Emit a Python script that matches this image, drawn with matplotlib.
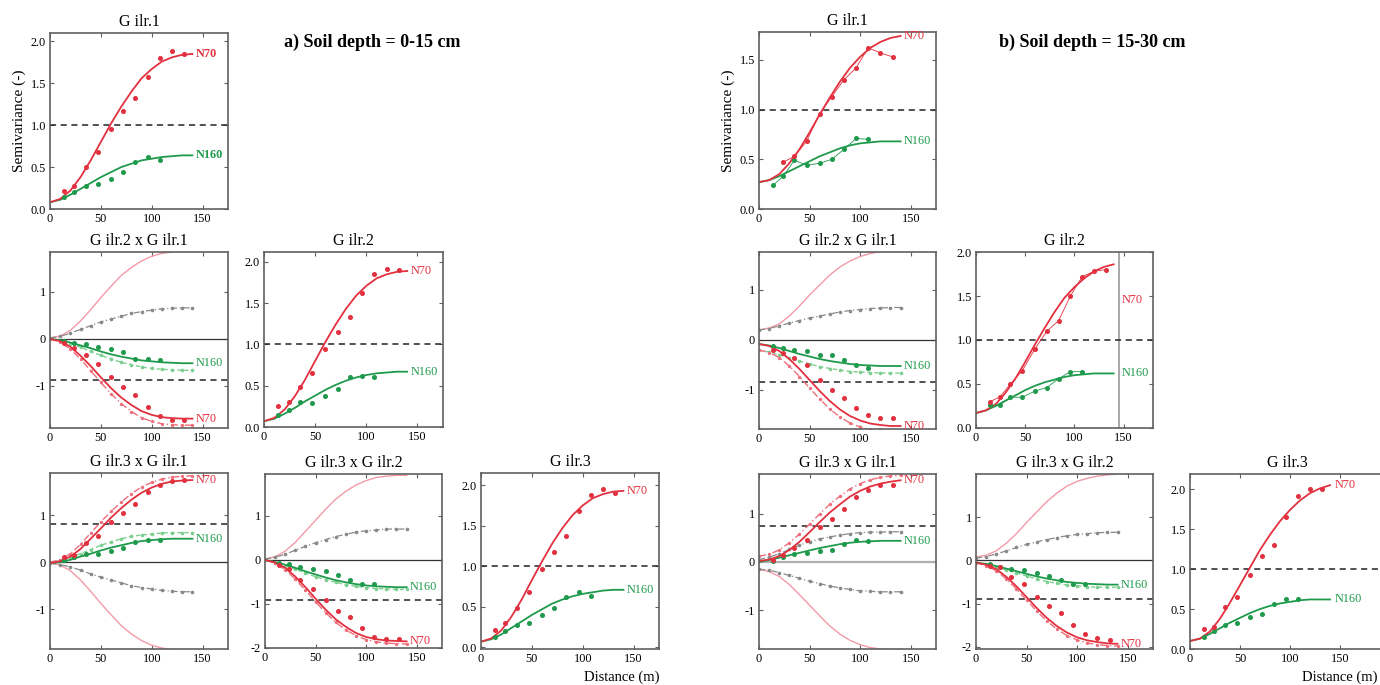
import matplotlib
matplotlib.use('Agg')
import matplotlib.pyplot as plt

plt.rcParams['font.family'] = ['Liberation Serif', 'DejaVu Serif']

# ---------------- data ----------------
lags = [14, 24, 35, 47, 60, 72, 84, 96, 108, 120, 132]
lags_n160 = [14, 24, 35, 47, 60, 72, 84, 96, 108]
dist = [0, 10, 20, 30, 40, 50, 60, 70, 80, 90, 100, 110, 120, 130, 140]

# a) 0-15 cm : G ilr.1
a1_n70_pts = [0.22, 0.28, 0.50, 0.68, 0.95, 1.17, 1.33, 1.58, 1.80, 1.88, 1.85]
a1_n160_pts = [0.14, 0.20, 0.28, 0.30, 0.36, 0.44, 0.56, 0.62, 0.58]
a1_n70_fit = [0.08, 0.12, 0.22, 0.38, 0.58, 0.80, 1.02, 1.22, 1.40, 1.56, 1.67, 1.76, 1.81, 1.84, 1.85]
a1_n160_fit = [0.08, 0.11, 0.17, 0.24, 0.31, 0.38, 0.44, 0.50, 0.54, 0.58, 0.60, 0.62, 0.63, 0.64, 0.64]

# a) G ilr.2 x G ilr.1
a21_up_n70 = [0.02, 0.06, 0.18, 0.38, 0.62, 0.88, 1.12, 1.35, 1.52, 1.66, 1.76, 1.82, 1.85, 1.87, 1.88]
a21_up_n160 = [0.02, 0.05, 0.12, 0.20, 0.28, 0.36, 0.42, 0.48, 0.54, 0.58, 0.61, 0.64, 0.65, 0.66, 0.66]
a21_n160_fit = [0.00, -0.03, -0.08, -0.14, -0.20, -0.27, -0.33, -0.38, -0.42, -0.46, -0.48, -0.50, -0.51, -0.52, -0.52]
a21_lo_n160 = [0.00, -0.04, -0.10, -0.18, -0.27, -0.35, -0.43, -0.50, -0.55, -0.60, -0.63, -0.65, -0.66, -0.67, -0.67]
a21_n70_fit = [0.00, -0.05, -0.17, -0.36, -0.58, -0.82, -1.05, -1.25, -1.41, -1.54, -1.62, -1.67, -1.69, -1.70, -1.70]
a21_lo_n70 = [0.00, -0.07, -0.22, -0.43, -0.68, -0.93, -1.17, -1.38, -1.55, -1.68, -1.76, -1.81, -1.83, -1.84, -1.84]
a21_n160_pts = [-0.05, -0.08, -0.12, -0.17, -0.21, -0.28, -0.42, -0.44, -0.46]
a21_n70_pts = [-0.08, -0.19, -0.34, -0.54, -0.81, -1.03, -1.20, -1.45, -1.64, -1.72, -1.72]

# a) G ilr.2
a22_n70_pts = [0.25, 0.30, 0.48, 0.65, 0.94, 1.15, 1.33, 1.62, 1.85, 1.92, 1.90]
a22_n160_pts = [0.15, 0.20, 0.30, 0.29, 0.37, 0.46, 0.60, 0.62, 0.60]
a22_n70_fit = [0.07, 0.11, 0.21, 0.37, 0.57, 0.80, 1.03, 1.24, 1.43, 1.59, 1.71, 1.80, 1.85, 1.88, 1.89]
a22_n160_fit = [0.07, 0.10, 0.16, 0.23, 0.31, 0.38, 0.45, 0.51, 0.56, 0.60, 0.63, 0.65, 0.66, 0.67, 0.67]

# a) G ilr.3 x G ilr.1
a31_n70_fit = [-0.02, 0.02, 0.12, 0.28, 0.50, 0.72, 0.95, 1.15, 1.33, 1.48, 1.59, 1.67, 1.72, 1.74, 1.75]
a31_up_n70 = [0.00, 0.05, 0.18, 0.38, 0.62, 0.86, 1.08, 1.28, 1.46, 1.60, 1.70, 1.77, 1.81, 1.83, 1.84]
a31_n70_pts = [0.10, 0.15, 0.40, 0.55, 0.85, 1.05, 1.25, 1.50, 1.65, 1.72, 1.75]
a31_n160_fit = [-0.02, 0.00, 0.05, 0.12, 0.18, 0.25, 0.31, 0.36, 0.41, 0.45, 0.47, 0.49, 0.50, 0.50, 0.50]
a31_up_n160 = [0.00, 0.03, 0.10, 0.18, 0.27, 0.36, 0.43, 0.50, 0.55, 0.58, 0.60, 0.62, 0.63, 0.63, 0.63]
a31_n160_pts = [0.05, 0.10, 0.18, 0.18, 0.24, 0.30, 0.43, 0.48, 0.47]
a31_lo_n160 = [-0.02, -0.05, -0.10, -0.17, -0.25, -0.32, -0.38, -0.44, -0.50, -0.54, -0.57, -0.60, -0.62, -0.63, -0.63]
a31_lo_n70 = [-0.02, -0.06, -0.18, -0.38, -0.62, -0.88, -1.12, -1.35, -1.53, -1.67, -1.77, -1.83, -1.86, -1.88, -1.88]

# a) G ilr.3 x G ilr.2
a32_up_n70 = [0.02, 0.07, 0.20, 0.40, 0.65, 0.90, 1.15, 1.38, 1.56, 1.70, 1.80, 1.87, 1.90, 1.92, 1.92]
a32_up_n160 = [0.02, 0.06, 0.13, 0.22, 0.31, 0.39, 0.46, 0.53, 0.58, 0.63, 0.66, 0.68, 0.70, 0.70, 0.70]
a32_n160_fit = [0.00, -0.05, -0.11, -0.18, -0.26, -0.33, -0.40, -0.46, -0.51, -0.55, -0.58, -0.60, -0.61, -0.62, -0.62]
a32_lo_n160 = [0.00, -0.06, -0.13, -0.21, -0.30, -0.38, -0.45, -0.51, -0.56, -0.60, -0.63, -0.65, -0.66, -0.67, -0.67]
a32_n160_pts = [-0.08, -0.10, -0.15, -0.20, -0.25, -0.35, -0.45, -0.55, -0.55]
a32_n70_fit = [0.00, -0.06, -0.18, -0.38, -0.62, -0.88, -1.13, -1.35, -1.52, -1.66, -1.75, -1.80, -1.83, -1.84, -1.85]
a32_lo_n70 = [0.00, -0.08, -0.22, -0.44, -0.69, -0.95, -1.20, -1.42, -1.59, -1.72, -1.81, -1.86, -1.89, -1.90, -1.91]
a32_n70_pts = [-0.12, -0.20, -0.45, -0.65, -0.90, -1.15, -1.30, -1.55, -1.75, -1.80, -1.80]

# a) G ilr.3
a33_n70_pts = [0.22, 0.30, 0.48, 0.68, 0.97, 1.18, 1.37, 1.68, 1.88, 1.95, 1.90]
a33_n160_pts = [0.13, 0.20, 0.28, 0.30, 0.40, 0.48, 0.62, 0.68, 0.63]
a33_n70_fit = [0.07, 0.11, 0.21, 0.38, 0.59, 0.83, 1.06, 1.28, 1.47, 1.63, 1.75, 1.84, 1.89, 1.92, 1.93]
a33_n160_fit = [0.07, 0.10, 0.16, 0.24, 0.32, 0.40, 0.47, 0.54, 0.59, 0.63, 0.66, 0.68, 0.70, 0.71, 0.71]

# b) 15-30 cm : G ilr.1
b1_n70_lags = [24, 35, 47, 60, 72, 84, 96, 108, 120, 132]
b1_n70_pts = [0.47, 0.53, 0.68, 0.96, 1.13, 1.30, 1.42, 1.62, 1.57, 1.53]
b1_n160_pts = [0.24, 0.33, 0.49, 0.44, 0.46, 0.50, 0.60, 0.71, 0.70]
b1_n70_fit = [0.27, 0.29, 0.35, 0.46, 0.60, 0.77, 0.95, 1.12, 1.28, 1.42, 1.53, 1.62, 1.68, 1.72, 1.74]
b1_n160_fit = [0.27, 0.29, 0.33, 0.38, 0.43, 0.48, 0.53, 0.57, 0.61, 0.64, 0.66, 0.67, 0.68, 0.68, 0.68]

# b) G ilr.2 x G ilr.1
b21_up_n70 = [0.20, 0.24, 0.32, 0.48, 0.68, 0.90, 1.10, 1.30, 1.46, 1.58, 1.67, 1.73, 1.77, 1.79, 1.80]
b21_up_n160 = [0.20, 0.23, 0.28, 0.34, 0.39, 0.44, 0.48, 0.52, 0.56, 0.59, 0.61, 0.63, 0.64, 0.65, 0.65]
b21_n160_fit = [-0.08, -0.11, -0.16, -0.22, -0.28, -0.33, -0.38, -0.42, -0.45, -0.48, -0.50, -0.51, -0.52, -0.52, -0.52]
b21_lo_n160 = [-0.20, -0.24, -0.30, -0.36, -0.42, -0.48, -0.53, -0.57, -0.60, -0.63, -0.64, -0.65, -0.66, -0.66, -0.66]
b21_n160_pts = [-0.12, -0.15, -0.20, -0.22, -0.30, -0.30, -0.40, -0.50, -0.55]
b21_n70_fit = [-0.08, -0.12, -0.22, -0.38, -0.58, -0.80, -1.02, -1.22, -1.39, -1.52, -1.61, -1.67, -1.70, -1.72, -1.72]
b21_lo_n70 = [-0.20, -0.25, -0.35, -0.52, -0.73, -0.96, -1.18, -1.38, -1.54, -1.66, -1.74, -1.79, -1.80, -1.81, -1.81]
b21_n70_pts = [-0.20, -0.25, -0.35, -0.50, -0.80, -1.00, -1.15, -1.35, -1.50, -1.55, -1.55]

# b) G ilr.2
b22_n70_pts = [0.30, 0.35, 0.50, 0.65, 0.90, 1.10, 1.22, 1.50, 1.72, 1.78, 1.80]
b22_n160_pts = [0.26, 0.26, 0.35, 0.35, 0.42, 0.46, 0.56, 0.64, 0.64]
b22_n70_fit = [0.17, 0.20, 0.27, 0.40, 0.56, 0.75, 0.95, 1.14, 1.32, 1.48, 1.60, 1.70, 1.78, 1.83, 1.86]
b22_n160_fit = [0.17, 0.20, 0.25, 0.31, 0.37, 0.43, 0.48, 0.52, 0.55, 0.58, 0.60, 0.61, 0.62, 0.62, 0.62]

# b) G ilr.3 x G ilr.1
b31_n70_fit = [0.02, 0.05, 0.12, 0.25, 0.42, 0.62, 0.83, 1.03, 1.20, 1.36, 1.48, 1.57, 1.63, 1.67, 1.70]
b31_up_n70 = [0.12, 0.16, 0.25, 0.40, 0.58, 0.79, 1.00, 1.20, 1.37, 1.52, 1.63, 1.71, 1.76, 1.79, 1.80]
b31_n70_pts = [0.05, 0.15, 0.30, 0.45, 0.72, 0.90, 1.10, 1.35, 1.50, 1.60, 1.60]
b31_n160_fit = [0.00, 0.04, 0.09, 0.14, 0.19, 0.24, 0.29, 0.33, 0.37, 0.40, 0.42, 0.43, 0.44, 0.44, 0.44]
b31_up_n160 = [0.05, 0.10, 0.17, 0.26, 0.35, 0.42, 0.48, 0.52, 0.56, 0.59, 0.61, 0.62, 0.62, 0.63, 0.63]
b31_n160_pts = [0.03, 0.10, 0.17, 0.18, 0.22, 0.25, 0.37, 0.45, 0.43]
b31_lo_n160 = [-0.15, -0.17, -0.22, -0.28, -0.34, -0.40, -0.45, -0.50, -0.54, -0.57, -0.60, -0.61, -0.62, -0.62, -0.62]
b31_lo_n70 = [-0.15, -0.20, -0.30, -0.47, -0.68, -0.90, -1.12, -1.33, -1.50, -1.63, -1.72, -1.78, -1.81, -1.82, -1.82]

# b) G ilr.3 x G ilr.2
b32_up_n70 = [0.08, 0.12, 0.22, 0.40, 0.62, 0.88, 1.12, 1.36, 1.56, 1.72, 1.83, 1.90, 1.95, 1.98, 2.00]
b32_up_n160 = [0.05, 0.09, 0.15, 0.22, 0.30, 0.37, 0.43, 0.48, 0.53, 0.57, 0.60, 0.62, 0.64, 0.65, 0.65]
b32_n160_fit = [-0.05, -0.08, -0.13, -0.19, -0.25, -0.31, -0.37, -0.42, -0.46, -0.50, -0.52, -0.54, -0.55, -0.56, -0.56]
b32_lo_n160 = [-0.05, -0.09, -0.15, -0.22, -0.29, -0.36, -0.43, -0.49, -0.53, -0.57, -0.59, -0.61, -0.62, -0.62, -0.62]
b32_n160_pts = [-0.08, -0.15, -0.20, -0.22, -0.30, -0.35, -0.45, -0.55, -0.55]
b32_n70_fit = [-0.05, -0.10, -0.20, -0.38, -0.60, -0.85, -1.10, -1.33, -1.52, -1.67, -1.78, -1.85, -1.89, -1.92, -1.93]
b32_lo_n70 = [-0.05, -0.12, -0.24, -0.43, -0.66, -0.92, -1.17, -1.40, -1.59, -1.74, -1.84, -1.91, -1.95, -1.97, -1.98]
b32_n70_pts = [-0.12, -0.15, -0.38, -0.55, -0.85, -1.05, -1.22, -1.50, -1.70, -1.80, -1.85]

# b) G ilr.3
b33_n70_pts = [0.25, 0.28, 0.52, 0.65, 0.92, 1.16, 1.30, 1.65, 1.92, 2.00, 2.00]
b33_n160_pts = [0.15, 0.22, 0.30, 0.32, 0.40, 0.44, 0.56, 0.62, 0.62]
b33_n70_fit = [0.10, 0.13, 0.22, 0.38, 0.58, 0.80, 1.02, 1.24, 1.43, 1.60, 1.74, 1.86, 1.95, 2.01, 2.05]
b33_n160_fit = [0.10, 0.13, 0.19, 0.26, 0.33, 0.39, 0.45, 0.50, 0.54, 0.57, 0.59, 0.61, 0.62, 0.62, 0.62]

# ---------------- style ----------------
RED = '#e2303f'
GREEN = '#1f9a4c'
PINK = '#f39aa8'
GREY = '#8a8a8a'
LGREEN = '#7ccf90'
LRED = '#ef6e7c'
SPINE = '#606060'
TICK_FS = 8.8
LAB_FS = 8.8

W, H = 1380, 685
fig = plt.figure(figsize=(W / 100, H / 100), dpi=100)


def make_ax(box, xlim, ylim, yticks, ylabels, title):
    l, t, r, b = box
    ax = fig.add_axes([l / W, 1 - b / H, (r - l) / W, (b - t) / H])
    ax.set_xlim(*xlim)
    ax.set_ylim(*ylim)
    ax.set_xticks([0, 50, 100, 150])
    ax.set_yticks(yticks)
    ax.set_yticklabels(ylabels)
    ax.tick_params(direction='in', top=True, right=True, length=3, width=0.8,
                   color=SPINE, labelsize=TICK_FS, pad=3)
    for s in ax.spines.values():
        s.set_color(SPINE)
        s.set_linewidth(1.2)
    ax.set_title(title, fontsize=11.5, pad=5)
    return ax


def label(ax, x, y, txt, color, bold=False):
    ax.text(x, y, txt, color=color, fontsize=LAB_FS, va='center', ha='left',
            fontweight='bold' if bold else 'normal', clip_on=False)


def direct(ax, n70_pts, n160_pts, n70_fit, n160_fit, n70_lags=lags, join=False, bold=False, lx=143):
    ax.axhline(1.0, color='#222222', ls=(0, (4, 3)), lw=1.1)
    ax.plot(dist, n160_fit, color=GREEN, lw=1.3)
    ax.plot(dist, n70_fit, color=RED, lw=1.3)
    ax.plot(lags_n160, n160_pts, 'o', color=GREEN, ms=2.6, ls='-' if join else 'none', lw=0.6)
    ax.plot(n70_lags, n70_pts, 'o', color=RED, ms=2.6, ls='-' if join else 'none', lw=0.6)
    label(ax, lx, n70_fit[-1], 'N70', RED, bold)
    label(ax, lx, n160_fit[-1], 'N160', GREEN, bold)


def cross(ax, dline, up70, up160, f160, lo160, p160, f70, lo70, p70, zero_col='#333333'):
    ax.axhline(0.0, color=zero_col, lw=0.9)
    ax.axhline(dline, color='#222222', ls=(0, (4, 3)), lw=1.1)
    ax.plot(dist, up70, color=PINK, lw=1.0)
    ax.plot(dist, up160, color=GREY, lw=0.9, ls=(0, (5, 2, 1, 2)), marker='o', ms=1.6)
    ax.plot(dist, lo160, color=LGREEN, lw=1.0, ls=(0, (3, 2)), marker='o', ms=1.6)
    ax.plot(dist, lo70, color=LRED, lw=1.0, ls=(0, (5, 2, 1, 2)), marker='o', ms=1.4)
    ax.plot(dist, f160, color=GREEN, lw=1.3)
    ax.plot(dist, f70, color=RED, lw=1.3)
    ax.plot(lags_n160, p160, 'o', color=GREEN, ms=2.6)
    ax.plot(lags, p70, 'o', color=RED, ms=2.6)
    label(ax, 143, f70[-1], 'N70', RED)
    label(ax, 143, f160[-1], 'N160', GREEN)


cross_ticks = [-1, 0, 1]
cross_lab = ['-1', '0', '1']
cross_ticks2 = [-2, -1, 0, 1]
cross_lab2 = ['-2', '-1', '0', '1']
dir_ticks = [0, 0.5, 1.0, 1.5, 2.0]
dir_lab = ['0.0', '0.5', '1.0', '1.5', '2.0']

# ----- a) -----
ax = make_ax((50, 33, 228, 209), (0, 175), (0, 2.1), dir_ticks, dir_lab, 'G ilr.1')
direct(ax, a1_n70_pts, a1_n160_pts, a1_n70_fit, a1_n160_fit, bold=True)
ax.set_ylabel('Semivariance (-)', fontsize=11, labelpad=3)

ax = make_ax((50, 252, 228, 428), (0, 175), (-1.9, 1.85), cross_ticks, cross_lab, 'G ilr.2 x G ilr.1')
cross(ax, -0.87, a21_up_n70, a21_up_n160, a21_n160_fit, a21_lo_n160, a21_n160_pts,
      a21_n70_fit, a21_lo_n70, a21_n70_pts)

ax = make_ax((264, 252, 443, 427), (0, 175), (0, 2.12), dir_ticks, dir_lab, 'G ilr.2')
direct(ax, a22_n70_pts, a22_n160_pts, a22_n70_fit, a22_n160_fit)

ax = make_ax((50, 473, 228, 649), (0, 175), (-1.85, 1.9), cross_ticks, cross_lab, 'G ilr.3 x G ilr.1')
ax.axhline(0.0, color='#333333', lw=0.9)
ax.axhline(0.82, color='#222222', ls=(0, (4, 3)), lw=1.1)
ax.plot(dist, a31_lo_n70, color=PINK, lw=1.0)
ax.plot(dist, a31_lo_n160, color=GREY, lw=0.9, ls=(0, (5, 2, 1, 2)), marker='o', ms=1.6)
ax.plot(dist, a31_up_n160, color=LGREEN, lw=1.0, ls=(0, (3, 2)), marker='o', ms=1.6)
ax.plot(dist, a31_up_n70, color=LRED, lw=1.0, ls=(0, (5, 2, 1, 2)), marker='o', ms=1.4)
ax.plot(dist, a31_n160_fit, color=GREEN, lw=1.3)
ax.plot(dist, a31_n70_fit, color=RED, lw=1.3)
ax.plot(lags_n160, a31_n160_pts, 'o', color=GREEN, ms=2.6)
ax.plot(lags, a31_n70_pts, 'o', color=RED, ms=2.6)
label(ax, 143, a31_n70_fit[-1], 'N70', RED)
label(ax, 143, a31_n160_fit[-1], 'N160', GREEN)

ax = make_ax((265, 474, 442, 648), (0, 175), (-2.0, 1.95), cross_ticks2, cross_lab2, 'G ilr.3 x G ilr.2')
cross(ax, -0.9, a32_up_n70, a32_up_n160, a32_n160_fit, a32_lo_n160, a32_n160_pts,
      a32_n70_fit, a32_lo_n70, a32_n70_pts)

ax = make_ax((481, 473, 659, 649), (0, 175), (-0.02, 2.15), dir_ticks, dir_lab, 'G ilr.3')
direct(ax, a33_n70_pts, a33_n160_pts, a33_n70_fit, a33_n160_fit)
fig.text(659 / W, 1 - 677 / H, 'Distance (m)', ha='right', va='center', fontsize=10.5)

fig.text(372 / W, 1 - 42 / H, 'a) Soil depth = 0-15 cm', ha='center', va='center',
         fontsize=13, fontweight='bold')

# ----- b) -----
ax = make_ax((759, 32, 936, 209), (0, 175), (0, 1.78), [0, 0.5, 1.0, 1.5], dir_lab[:4], 'G ilr.1')
direct(ax, b1_n70_pts, b1_n160_pts, b1_n70_fit, b1_n160_fit, n70_lags=b1_n70_lags, join=True)
ax.set_ylabel('Semivariance (-)', fontsize=11, labelpad=3)

ax = make_ax((759, 252, 936, 429), (0, 175), (-1.78, 1.76), cross_ticks, cross_lab, 'G ilr.2 x G ilr.1')
cross(ax, -0.84, b21_up_n70, b21_up_n160, b21_n160_fit, b21_lo_n160, b21_n160_pts,
      b21_n70_fit, b21_lo_n70, b21_n70_pts)

ax = make_ax((976, 252, 1153, 428), (0, 180), (0, 2.0), dir_ticks, dir_lab, 'G ilr.2')
ax.axvline(145, color='#9a9a9a', lw=1.2)
direct(ax, b22_n70_pts, b22_n160_pts, b22_n70_fit, b22_n160_fit, join=True, lx=148)
ax.texts[0].set_y(1.45)

ax = make_ax((759, 474, 936, 649), (0, 175), (-1.81, 1.83), cross_ticks, cross_lab, 'G ilr.3 x G ilr.1')
ax.axhline(0.0, color='#b0b0b0', lw=1.6)
ax.axhline(0.75, color='#222222', ls=(0, (4, 3)), lw=1.1)
ax.plot(dist, b31_lo_n70, color=PINK, lw=1.0)
ax.plot(dist, b31_lo_n160, color=GREY, lw=0.9, ls=(0, (5, 2, 1, 2)), marker='o', ms=1.6)
ax.plot(dist, b31_up_n160, color=GREY, lw=0.9, ls=(0, (5, 2, 1, 2)), marker='o', ms=1.6)
ax.plot(dist, b31_up_n70, color=LRED, lw=1.0, ls=(0, (5, 2, 1, 2)), marker='o', ms=1.4)
ax.plot(dist, b31_n160_fit, color=GREEN, lw=1.3)
ax.plot(dist, b31_n70_fit, color=RED, lw=1.3)
ax.plot(lags_n160, b31_n160_pts, 'o', color=GREEN, ms=2.6)
ax.plot(lags, b31_n70_pts, 'o', color=RED, ms=2.6)
label(ax, 143, b31_n70_fit[-1], 'N70', RED)
label(ax, 143, b31_n160_fit[-1], 'N160', GREEN)

ax = make_ax((976, 474, 1153, 649), (0, 175), (-2.05, 2.0), cross_ticks2, cross_lab2, 'G ilr.3 x G ilr.2')
cross(ax, -0.9, b32_up_n70, b32_up_n160, b32_n160_fit, b32_lo_n160, b32_n160_pts,
      b32_n70_fit, b32_lo_n70, b32_n70_pts)

ax = make_ax((1190, 474, 1385, 649), (0, 195), (0, 2.19), dir_ticks, dir_lab, 'G ilr.3')
direct(ax, b33_n70_pts, b33_n160_pts, b33_n70_fit, b33_n160_fit, lx=145)
fig.text(1378 / W, 1 - 677 / H, 'Distance (m)', ha='right', va='center', fontsize=10.5)

fig.text(1092 / W, 1 - 42 / H, 'b) Soil depth = 15-30 cm', ha='center', va='center',
         fontsize=13, fontweight='bold')

fig.savefig('out.png', dpi=100)
